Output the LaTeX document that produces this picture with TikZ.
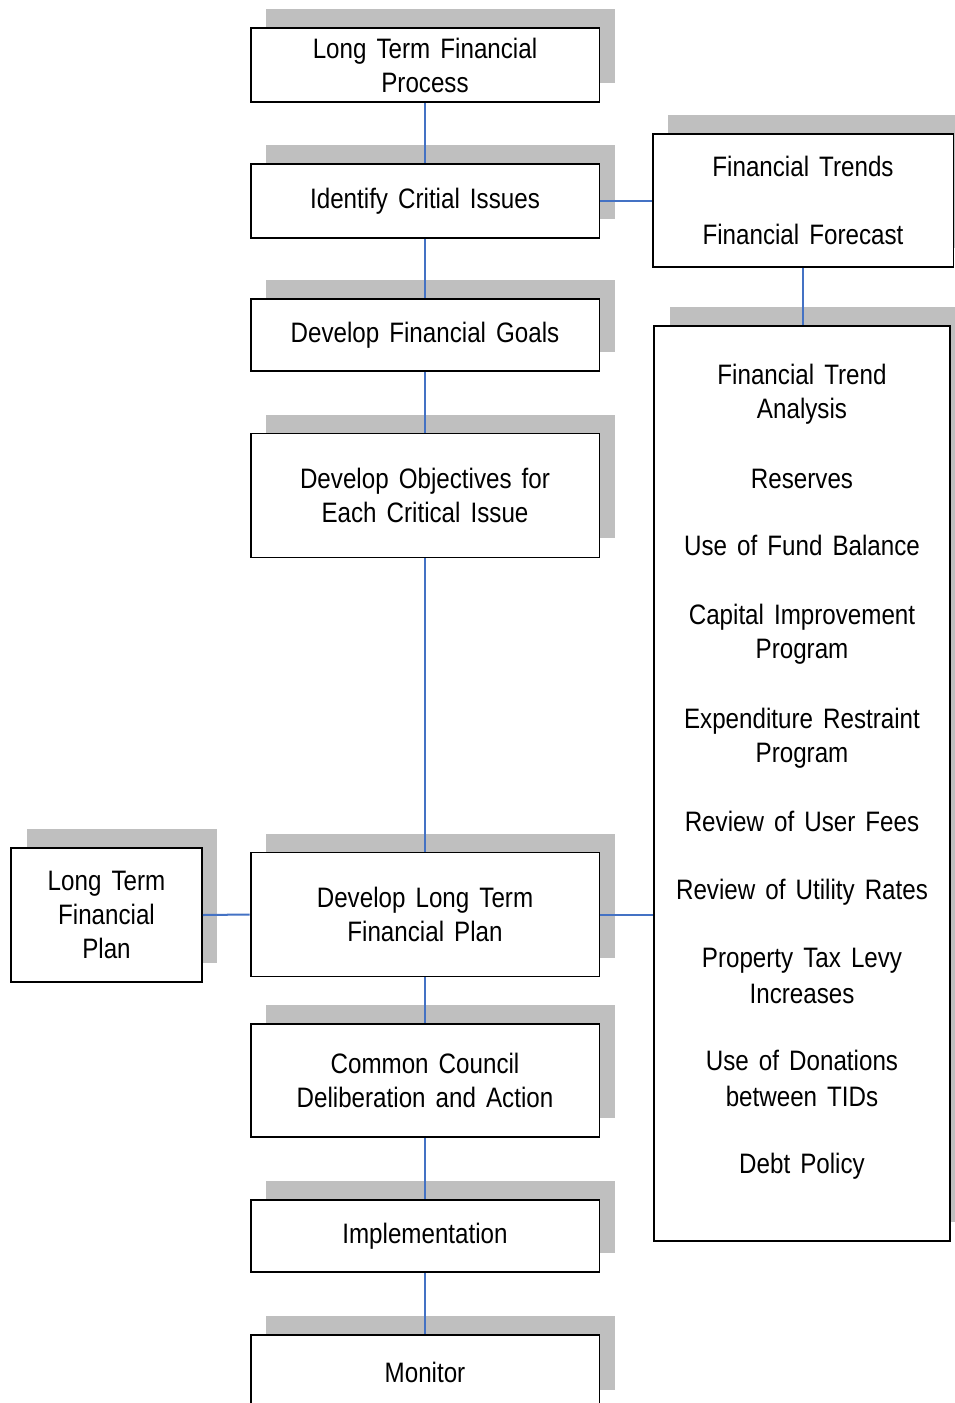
\documentclass[tikz,border=0pt]{standalone}
\usepackage{fontspec}
\setmainfont{Liberation Sans}[FakeStretch=0.86, WordSpace=1.5]
\usetikzlibrary{positioning, shadows}
\definecolor{link_blue}{RGB}{68, 114, 196}
\definecolor{shadow_gray}{RGB}{191, 191, 191}

\begin{document}
\begin{tikzpicture}[
    x=0.02cm, y=-0.02cm,
    font=\fontsize{16}{19.4}\selectfont,
    % Process boxes with offset gray shadow
    box/.style={
        draw=black,
        line width=1.1pt,
        rectangle,
        align=center,
        inner sep=0pt,
        fill=white,
        drop shadow={shadow xshift=0.31cm, shadow yshift=0.38cm,
            fill=shadow_gray, opacity=1}
    },
    step_box/.style={box, minimum width=6.98cm, minimum height=1.48cm},
    link/.style={draw=link_blue, line width=0.0401cm}
]
    \useasboundingbox (0,0) rectangle (954,1403);

    % ==========================================
    % 1. MAIN PROCESS COLUMN
    % ==========================================

    \node (lt_process) [step_box] at (425, 65) {Long Term Financial\\Process};
    \node (crit_issues) [step_box] at (425, 201) {Identify Critial Issues};
    \node (fin_goals) [step_box, minimum height=1.44cm] at (425, 335) {Develop Financial Goals};
    \node (objectives) [step_box, minimum height=2.48cm] at (425, 495.5) {Develop Objectives for\\Each Critical Issue};
    \node (lt_plan_dev) [step_box, minimum height=2.48cm] at (425, 914.5) {Develop Long Term\\Financial Plan};
    \node (council) [step_box, minimum height=2.26cm] at (425, 1080.5) {Common Council\\Deliberation and Action};
    \node (implement) [step_box, minimum height=1.44cm] at (425, 1236) {Implementation};
    \node (monitor) [step_box] at (425, 1372) {Monitor};

    \draw [link] (lt_process) -- (crit_issues);
    \draw [link] (crit_issues) -- (fin_goals);
    \draw [link] (fin_goals) -- (objectives);
    \draw [link] (objectives) -- (lt_plan_dev);
    \draw [link] (lt_plan_dev) -- (council);
    \draw [link] (council) -- (implement);
    \draw [link] (implement) -- (monitor);

    % ==========================================
    % 2. SIDE BOXES
    % ==========================================

    \node (trends) [box, minimum width=6.02cm, minimum height=2.66cm] at (803, 200.5) {
        Financial Trends\\[19.5pt]
        Financial Forecast
    };

    \node (tools) [box, minimum width=5.92cm, minimum height=18.3cm] at (802, 783.5) {
        Financial Trend\\
        Analysis\\[20pt]
        Reserves\\[19pt]
        Use of Fund Balance\\[20pt]
        Capital Improvement\\
        Program\\[20pt]
        Expenditure Restraint\\
        Program\\[20pt]
        Review of User Fees\\[19.5pt]
        Review of Utility Rates\\[19pt]
        Property Tax Levy\\[1pt]
        Increases\\[19pt]
        Use of Donations\\[1pt]
        between TIDs\\[19pt]
        Debt Policy\\[-3pt]
        \mbox{}
    };

    \node (lt_plan) [box, minimum width=3.82cm, minimum height=2.68cm] at (106.5, 915) {Long Term\\Financial\\Plan};

    \draw [link] (crit_issues.east) -- (trends.west |- crit_issues.east);
    \draw [link] (trends.south) -- (trends.south |- tools.north);
    \draw [link] (lt_plan.east) -- (lt_plan_dev.west);
    \draw [link] (lt_plan_dev.east) -- (lt_plan_dev.east -| tools.west);

\end{tikzpicture}
\end{document}
